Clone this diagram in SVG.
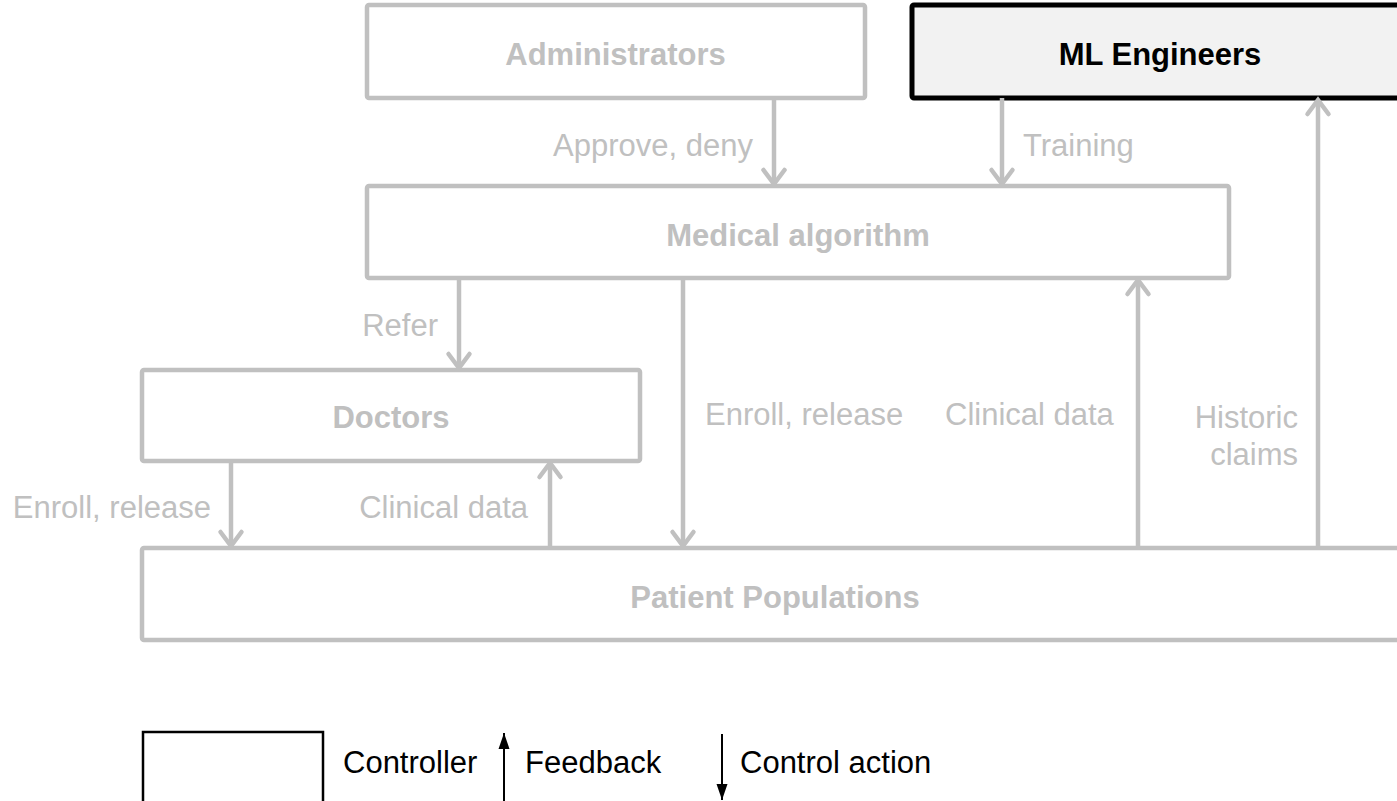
<svg xmlns="http://www.w3.org/2000/svg" width="1397" height="801" viewBox="0 0 1397 801">
<style>
  .box { fill: #ffffff; stroke: #c0c0c0; stroke-width: 4.5; stroke-linejoin: round; }
  .ctl { fill: #f2f2f2; stroke: #000000; stroke-width: 5; stroke-linejoin: round; }
  .name { font-family: "Liberation Sans", Arial, sans-serif; font-size: 31px; font-weight: bold; fill: #c0c0c0; text-anchor: middle; }
  .namek { fill: #000000; }
  .lbl { font-family: "Liberation Sans", Arial, sans-serif; font-size: 31px; fill: #c0c0c0; }
  .end { text-anchor: end; }
  .conn { stroke: #c0c0c0; stroke-width: 4.5; fill: none; marker-end: url(#chev); }
  .leg { font-family: "Liberation Sans", Arial, sans-serif; font-size: 31px; fill: #000000; }
</style>
<defs>
  <marker id="chev" markerUnits="userSpaceOnUse" markerWidth="40" markerHeight="40" refX="0" refY="0" orient="auto" viewBox="-20 -20 40 40" overflow="visible">
    <path d="M -14 -10.5 L 0 0 L -14 10.5" fill="none" stroke="#c0c0c0" stroke-width="4.5" stroke-linecap="round" stroke-linejoin="miter"/>
  </marker>
  <marker id="tri" markerUnits="userSpaceOnUse" markerWidth="30" markerHeight="30" refX="0" refY="0" orient="auto" viewBox="-20 -15 30 30" overflow="visible">
    <path d="M -16 -5.5 L 0 0 L -16 5.5 Z" fill="#000000"/>
  </marker>
</defs>
<rect width="1397" height="801" fill="#ffffff"/>

<g id="administrators">
  <rect class="box" x="367" y="5" width="498" height="93" rx="2"/>
  <text class="name" x="615.5" y="65">Administrators</text>
</g>
<g id="ml-engineers">
  <rect class="ctl" x="912" y="5" width="500" height="93" rx="2"/>
  <text class="name namek" x="1160" y="65">ML Engineers</text>
</g>
<g id="medical-algorithm">
  <rect class="box" x="367" y="186" width="862" height="92" rx="2"/>
  <text class="name" x="798" y="246">Medical algorithm</text>
</g>
<g id="doctors">
  <rect class="box" x="142" y="370" width="498" height="91" rx="2"/>
  <text class="name" x="391" y="428">Doctors</text>
</g>
<g id="patient-populations">
  <rect class="box" x="142" y="548" width="1270" height="92" rx="2"/>
  <text class="name" x="775" y="608">Patient Populations</text>
</g>

<g id="connectors">
  <line class="conn" x1="774" y1="98" x2="774" y2="184"/>
  <line class="conn" x1="1002" y1="98" x2="1002" y2="184"/>
  <line class="conn" x1="459" y1="278" x2="459" y2="368"/>
  <line class="conn" x1="683" y1="278" x2="683" y2="546"/>
  <line class="conn" x1="1138" y1="548" x2="1138" y2="280"/>
  <line class="conn" x1="1318" y1="548" x2="1318" y2="100"/>
  <line class="conn" x1="231" y1="461" x2="231" y2="546"/>
  <line class="conn" x1="550" y1="548" x2="550" y2="463"/>
</g>

<g id="labels">
  <text class="lbl end" x="753" y="156">Approve, deny</text>
  <text class="lbl" x="1023" y="156">Training</text>
  <text class="lbl end" x="438" y="336">Refer</text>
  <text class="lbl end" x="211" y="518">Enroll, release</text>
  <text class="lbl end" x="528" y="518">Clinical data</text>
  <text class="lbl" x="705" y="425">Enroll, release</text>
  <text class="lbl" x="945" y="425">Clinical data</text>
  <text class="lbl end" x="1298" y="428">Historic</text>
  <text class="lbl end" x="1298" y="465">claims</text>
</g>

<g id="legend">
  <rect x="143" y="732" width="180" height="90" fill="none" stroke="#000000" stroke-width="2.5"/>
  <text class="leg" x="343" y="773">Controller</text>
  <line x1="504" y1="810" x2="504" y2="733" stroke="#000000" stroke-width="2" marker-end="url(#tri)"/>
  <text class="leg" x="525" y="773">Feedback</text>
  <line x1="722" y1="734" x2="722" y2="800" stroke="#000000" stroke-width="2" marker-end="url(#tri)"/>
  <text class="leg" x="740" y="773">Control action</text>
</g>
</svg>
